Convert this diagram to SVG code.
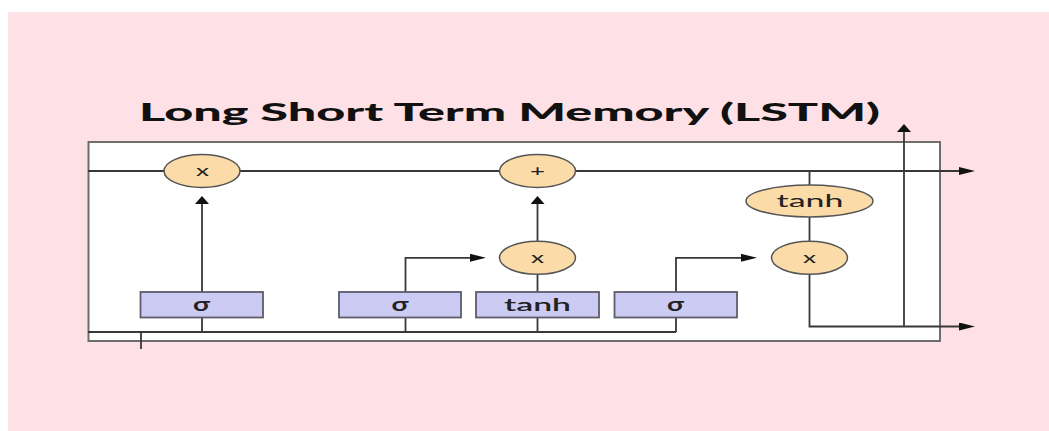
<svg xmlns="http://www.w3.org/2000/svg" width="1049" height="431" viewBox="0 0 1049 431">
<defs>
<style>
.bg{fill:#fde1e6}
.frame{fill:#ffffff;stroke:#6e6e6e;stroke-width:2}
.ln{fill:none;stroke:#383838;stroke-width:1.8}
.op{fill:#fbdba8;stroke:#555555;stroke-width:1.5}
.gate{fill:#cccbf4;stroke:#5c5c6a;stroke-width:1.8}
.t{font-family:Lato,"Open Sans","DejaVu Sans",sans-serif;fill:#222222;text-anchor:middle}
.title{font-family:Lato,"Open Sans","DejaVu Sans",sans-serif;font-weight:900;font-size:24px;fill:#111111}
</style>
<marker id="arrR" markerUnits="userSpaceOnUse" markerWidth="16" markerHeight="8" refX="0" refY="4" orient="auto" viewBox="0 0 16 8">
<path d="M0,0 L16,4 L0,8 z" fill="#111111"/>
</marker>
<marker id="arrU" markerUnits="userSpaceOnUse" markerWidth="14" markerHeight="8" refX="7" refY="8" orient="0" viewBox="0 0 14 8">
<path d="M0,8 L7,0 L14,8 z" fill="#111111"/>
</marker>
</defs>
<rect x="0" y="0" width="1049" height="431" fill="#ffffff"/>
<rect class="bg" x="8" y="12" width="1041" height="419"/>
<text class="title" x="139" y="121" textLength="741" lengthAdjust="spacingAndGlyphs">Long Short Term Memory (LSTM)</text>
<rect id="cell" class="frame" x="88.5" y="142" width="851.5" height="199"/>
<g id="connectors">
<path class="ln" d="M88,171 H959" marker-end="url(#arrR)"/>
<path class="ln" d="M202,292 V204" marker-end="url(#arrU)"/>
<path class="ln" d="M537.5,241 V204" marker-end="url(#arrU)"/>
<path class="ln" d="M405.5,292 V257.8 H470" marker-end="url(#arrR)"/>
<path class="ln" d="M676,292 V257.8 H741" marker-end="url(#arrR)"/>
<path class="ln" d="M88,332 H676"/>
<path class="ln" d="M202,317 V332"/>
<path class="ln" d="M405.5,317 V332"/>
<path class="ln" d="M537.5,317 V332"/>
<path class="ln" d="M676,317 V332"/>
<path class="ln" d="M537.5,292 V274"/>
<path class="ln" d="M141,332 V349"/>
<path class="ln" d="M809.5,171 V185"/>
<path class="ln" d="M809.5,217 V241"/>
<path class="ln" d="M809.5,274 V326.5 H959" marker-end="url(#arrR)"/>
<path class="ln" d="M904,326.5 V132" marker-end="url(#arrU)"/>
</g>
<g id="forget-mul">
<ellipse class="op" cx="202" cy="171" rx="38" ry="16.5"/>
<text class="t" x="202.5" y="176" font-size="16" textLength="13" lengthAdjust="spacingAndGlyphs">x</text>
</g>
<g id="add">
<ellipse class="op" cx="537.5" cy="171" rx="38" ry="16.5"/>
<text class="t" x="537.5" y="176" font-size="16" textLength="15" lengthAdjust="spacingAndGlyphs">+</text>
</g>
<g id="input-mul">
<ellipse class="op" cx="537.5" cy="257.8" rx="38" ry="16.5"/>
<text class="t" x="537.5" y="262.5" font-size="16" textLength="13" lengthAdjust="spacingAndGlyphs">x</text>
</g>
<g id="output-mul">
<ellipse class="op" cx="809.5" cy="257.8" rx="38" ry="16.5"/>
<text class="t" x="809.5" y="262.5" font-size="16" textLength="13" lengthAdjust="spacingAndGlyphs">x</text>
</g>
<g id="tanh-cell">
<ellipse class="op" cx="809.5" cy="201" rx="63.5" ry="16"/>
<text class="t" x="810" y="206.5" font-size="17" textLength="67" lengthAdjust="spacingAndGlyphs">tanh</text>
</g>
<g id="forget-gate">
<rect class="gate" x="140.5" y="292" width="122.5" height="25.5"/>
<text class="t" x="201.5" y="310.5" font-size="19" font-weight="bold" textLength="17" lengthAdjust="spacingAndGlyphs">σ</text>
</g>
<g id="input-gate">
<rect class="gate" x="339" y="292" width="122" height="25.5"/>
<text class="t" x="400" y="310.5" font-size="19" font-weight="bold" textLength="17" lengthAdjust="spacingAndGlyphs">σ</text>
</g>
<g id="candidate">
<rect class="gate" x="476" y="292" width="123" height="25.5"/>
<text class="t" x="537.5" y="310.5" font-size="18" font-weight="600" textLength="67" lengthAdjust="spacingAndGlyphs">tanh</text>
</g>
<g id="output-gate">
<rect class="gate" x="614.5" y="292" width="122.5" height="25.5"/>
<text class="t" x="675.5" y="310.5" font-size="19" font-weight="bold" textLength="17" lengthAdjust="spacingAndGlyphs">σ</text>
</g>
</svg>
